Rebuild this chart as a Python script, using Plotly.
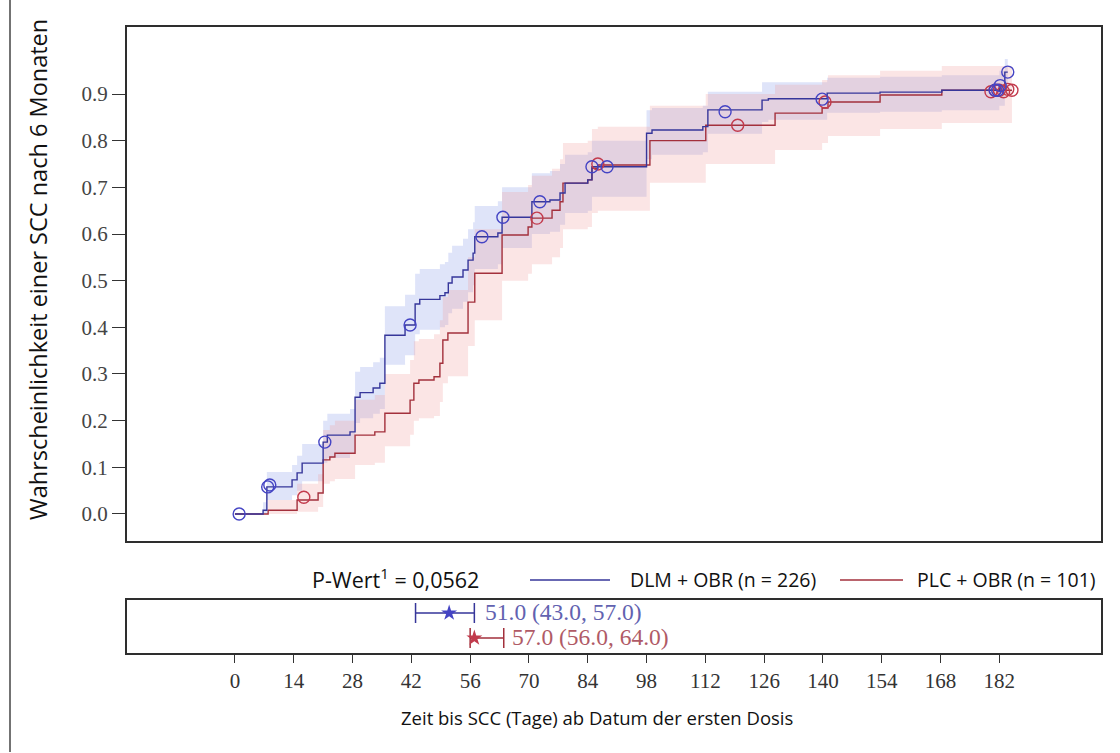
import plotly.graph_objects as go

# ---------------- data ----------------
blue_t = [0, 6.7, 7.6, 13.6, 14.8, 16, 21, 22, 27.4, 28.6, 29.8, 32.9, 34.5, 35.7, 40.5, 42.9, 44,
          48.8, 50, 50.8, 51.7, 54.3, 55.5, 56.7, 57.1, 62.6, 63.6, 70.7, 75, 77.4, 78.6, 84, 85,
          98, 99.3, 111.4, 112.6, 125.5, 127, 141, 153.6, 168.3, 182, 183.3]
blue_s = [0, 0.008, 0.058, 0.073, 0.088, 0.109, 0.154, 0.169, 0.176, 0.25, 0.26, 0.27, 0.28, 0.383, 0.405, 0.45, 0.46,
          0.468, 0.474, 0.495, 0.508, 0.523, 0.544, 0.559, 0.594, 0.602, 0.636, 0.669, 0.673, 0.688, 0.709, 0.716, 0.744,
          0.816, 0.823, 0.83, 0.866, 0.887, 0.89, 0.902, 0.904, 0.908, 0.918, 0.947]
blue_lo = [0, 0.0, 0.03, 0.04, 0.05, 0.07, 0.11, 0.12, 0.13, 0.195, 0.205, 0.215, 0.225, 0.32, 0.34, 0.385, 0.395,
           0.4, 0.405, 0.43, 0.44, 0.455, 0.475, 0.49, 0.525, 0.535, 0.57, 0.6, 0.605, 0.62, 0.645, 0.65, 0.68,
           0.76, 0.77, 0.775, 0.815, 0.84, 0.845, 0.86, 0.862, 0.865, 0.875, 0.9]
blue_hi = [0, 0.025, 0.09, 0.105, 0.125, 0.15, 0.2, 0.215, 0.225, 0.305, 0.315, 0.325, 0.335, 0.445, 0.47, 0.515, 0.525,
           0.535, 0.54, 0.56, 0.575, 0.59, 0.61, 0.625, 0.66, 0.67, 0.7, 0.73, 0.735, 0.75, 0.77, 0.775, 0.8,
           0.865, 0.87, 0.875, 0.905, 0.925, 0.925, 0.935, 0.937, 0.94, 0.95, 0.975]
blue_end = 184
blue_cens_t = [1, 7.8, 8.3, 21.4, 41.7, 58.8, 63.8, 72.6, 85, 88.6, 116.7, 139.8, 181, 181.6, 182.2, 184]
blue_cens_s = [0, 0.058, 0.062, 0.154, 0.405, 0.594, 0.636, 0.669, 0.744, 0.744, 0.862, 0.889, 0.908, 0.908, 0.918, 0.947]

red_t = [0, 7.9, 14.8, 19.8, 21, 22.6, 23.8, 28.6, 33.3, 35.7, 41.7, 42.6, 43.8, 47.4, 48.8, 49.5, 50.7,
         55.5, 57.1, 63.6, 69.8, 70.7, 75.5, 77.4, 78.1, 84, 85, 86.4, 98.8, 112.1, 128.6, 139.8, 141.2,
         153.6, 168.3]
red_s = [0, 0.008, 0.03, 0.045, 0.116, 0.122, 0.13, 0.169, 0.176, 0.216, 0.244, 0.28, 0.287, 0.294, 0.323, 0.373, 0.388,
         0.454, 0.516, 0.598, 0.615, 0.634, 0.651, 0.669, 0.709, 0.716, 0.741, 0.748, 0.8, 0.833, 0.859, 0.87, 0.883,
         0.898, 0.908]
red_lo = [0, 0.0, 0.005, 0.015, 0.065, 0.07, 0.075, 0.105, 0.11, 0.145, 0.17, 0.2, 0.205, 0.21, 0.24, 0.28, 0.295,
          0.36, 0.415, 0.5, 0.515, 0.535, 0.55, 0.57, 0.61, 0.615, 0.645, 0.65, 0.71, 0.75, 0.78, 0.795, 0.81,
          0.825, 0.838]
red_hi = [0, 0.03, 0.065, 0.085, 0.18, 0.19, 0.2, 0.245, 0.255, 0.3, 0.33, 0.37, 0.375, 0.385, 0.415, 0.465, 0.48,
          0.55, 0.61, 0.69, 0.705, 0.725, 0.74, 0.76, 0.795, 0.8, 0.825, 0.83, 0.875, 0.9, 0.92, 0.93, 0.94,
          0.95, 0.96]
red_end = 185
red_cens_t = [16.4, 71.9, 86.4, 119.7, 140.5, 180, 181, 182, 183, 184, 185]
red_cens_s = [0.036, 0.634, 0.75, 0.833, 0.883, 0.905, 0.908, 0.908, 0.905, 0.91, 0.908]

medians = [51.0, 57.0]
median_lo = [43.0, 56.0]
median_hi = [57.0, 64.0]
median_labels = ["51.0 (43.0, 57.0)", "57.0 (56.0, 64.0)"]

x_ticks = [0, 14, 28, 42, 56, 70, 84, 98, 112, 126, 140, 154, 168, 182]
y_ticks = [0.0, 0.1, 0.2, 0.3, 0.4, 0.5, 0.6, 0.7, 0.8, 0.9]
y_ticklabels = ["0.0", "0.1", "0.2", "0.3", "0.4", "0.5", "0.6", "0.7", "0.8", "0.9"]

legend_names = ["DLM + OBR (n = 226)", "PLC + OBR (n = 101)"]
p_text = "P-Wert<sup>1</sup> = 0,0562"
x_title = "Zeit bis SCC (Tage) ab Datum der ersten Dosis"
y_title = "Wahrscheinlichkeit einer SCC nach 6 Monaten"

# ---------------- styling ----------------
W, H = 1120, 753
BLUE_LINE = "#36369a"
RED_LINE = "#a3303c"
BLUE_MK = "#4444c4"
RED_MK = "#c23a4c"
BLUE_FILL = "rgba(150,165,235,0.30)"
RED_FILL = "rgba(240,150,150,0.25)"
SERIF = "Liberation Serif, Times New Roman, serif"
SANS = "Open Sans, Liberation Sans, sans-serif"

def px(x):
    return x / W

def py(y):
    return 1 - y / H

XR = [-25.7, 206.2]

fig = go.Figure()

def add_band(t, lo, hi, end, fill):
    tt = t + [end]
    fig.add_trace(go.Scatter(x=tt, y=lo + [lo[-1]], mode="lines", line=dict(width=0, shape="hv"),
                             hoverinfo="skip", showlegend=False))
    fig.add_trace(go.Scatter(x=tt, y=hi + [hi[-1]], mode="lines", line=dict(width=0, shape="hv"),
                             fill="tonexty", fillcolor=fill, hoverinfo="skip", showlegend=False))

add_band(blue_t, blue_lo, blue_hi, blue_end, BLUE_FILL)
add_band(red_t, red_lo, red_hi, red_end, RED_FILL)

fig.add_trace(go.Scatter(x=red_t + [red_end], y=red_s + [red_s[-1]], mode="lines",
                         line=dict(color=RED_LINE, width=1.4, shape="hv"), showlegend=False))
fig.add_trace(go.Scatter(x=blue_t + [blue_end], y=blue_s + [blue_s[-1]], mode="lines",
                         line=dict(color=BLUE_LINE, width=1.4, shape="hv"), showlegend=False))
fig.add_trace(go.Scatter(x=red_cens_t, y=red_cens_s, mode="markers",
                         marker=dict(symbol="circle-open", size=12, color=RED_MK, line=dict(width=1.4)),
                         showlegend=False))
fig.add_trace(go.Scatter(x=blue_cens_t, y=blue_cens_s, mode="markers",
                         marker=dict(symbol="circle-open", size=12, color=BLUE_MK, line=dict(width=1.4)),
                         showlegend=False))

# bottom panel: medians with CI
row_y = [0.755, 0.283]
cols = [BLUE_MK, RED_MK]
for i in range(2):
    fig.add_trace(go.Scatter(
        x=[medians[i]], y=[row_y[i]], xaxis="x2", yaxis="y2", mode="markers",
        marker=dict(symbol="star", size=12, color=cols[i]),
        error_x=dict(type="data", symmetric=False, array=[median_hi[i] - medians[i]],
                     arrayminus=[medians[i] - median_lo[i]], color=[BLUE_LINE, RED_LINE][i],
                     thickness=1.5, width=10),
        showlegend=False))

dom_x = [px(127), px(1101)]
fig.update_layout(
    width=W, height=H, margin=dict(l=0, r=0, t=0, b=0),
    paper_bgcolor="white", plot_bgcolor="white", showlegend=False,
    xaxis=dict(domain=dom_x, range=XR, anchor="y", showticklabels=False, ticks="",
               showgrid=False, zeroline=False, showline=True, mirror=True, linewidth=2, linecolor="#2e2e2e"),
    yaxis=dict(domain=[py(541), py(27)], range=[-0.0579, 1.0436], anchor="x",
               tickvals=y_ticks, ticktext=y_ticklabels, ticks="outside", ticklen=13, tickwidth=1.2,
               tickcolor="#333", tickfont=dict(family=SERIF, size=21, color="#444"),
               showgrid=False, zeroline=False, showline=True, mirror=True, linewidth=2, linecolor="#2e2e2e"),
    xaxis2=dict(domain=dom_x, range=XR, anchor="y2", tickvals=x_ticks, ticktext=[str(v) for v in x_ticks],
                ticks="outside", ticklen=8, tickwidth=1.2, tickcolor="#333",
                tickfont=dict(family=SERIF, size=21, color="#333"),
                showgrid=False, zeroline=False, showline=True, mirror=True, linewidth=1.8, linecolor="#2e2e2e"),
    yaxis2=dict(domain=[py(653), py(600)], range=[0, 1], anchor="x2", showticklabels=False, ticks="",
                showgrid=False, zeroline=False, showline=True, mirror=True, linewidth=1.8, linecolor="#2e2e2e"),
)

ann = []
ann.append(dict(x=px(38), y=py(270), xref="paper", yref="paper", text=y_title, textangle=-90,
                xanchor="center", yanchor="middle",
                showarrow=False, font=dict(family=SANS, size=23.5, color="#111")))
ann.append(dict(x=px(597), y=py(717), xref="paper", yref="paper", text=x_title,
                xanchor="center", yanchor="middle",
                showarrow=False, font=dict(family=SANS, size=18.5, color="#111")))
ann.append(dict(x=px(310), y=py(578), xref="paper", yref="paper", text=p_text, xanchor="left",
                yanchor="middle", showarrow=False, font=dict(family=SANS, size=21.5, color="#111")))
ann.append(dict(x=px(628), y=py(579), xref="paper", yref="paper", text=legend_names[0], xanchor="left",
                yanchor="middle", showarrow=False, font=dict(family=SANS, size=19.5, color="#111")))
ann.append(dict(x=px(915), y=py(579), xref="paper", yref="paper", text=legend_names[1], xanchor="left",
                yanchor="middle", showarrow=False, font=dict(family=SANS, size=19.5, color="#111")))
ann.append(dict(x=px(483), y=py(612), xref="paper", yref="paper", text=median_labels[0], xanchor="left",
                yanchor="middle", showarrow=False, font=dict(family=SERIF, size=23.5, color="#6262b0")))
ann.append(dict(x=px(510), y=py(637), xref="paper", yref="paper", text=median_labels[1], xanchor="left",
                yanchor="middle", showarrow=False, font=dict(family=SERIF, size=23.5, color="#b05a66")))
fig.update_layout(annotations=ann)

shapes = [
    dict(type="line", xref="paper", yref="paper", x0=px(530), x1=px(610), y0=py(580), y1=py(580),
         line=dict(color=BLUE_LINE, width=1.5)),
    dict(type="line", xref="paper", yref="paper", x0=px(840), x1=px(903), y0=py(580), y1=py(580),
         line=dict(color=RED_LINE, width=1.5)),
    dict(type="line", xref="paper", yref="paper", x0=px(10), x1=px(10), y0=py(0), y1=py(752),
         line=dict(color="#444", width=1.5)),
]
fig.update_layout(shapes=shapes)

fig.write_html("out.html", config={"displayModeBar": False},
               post_script="document.body.style.margin='0';")
